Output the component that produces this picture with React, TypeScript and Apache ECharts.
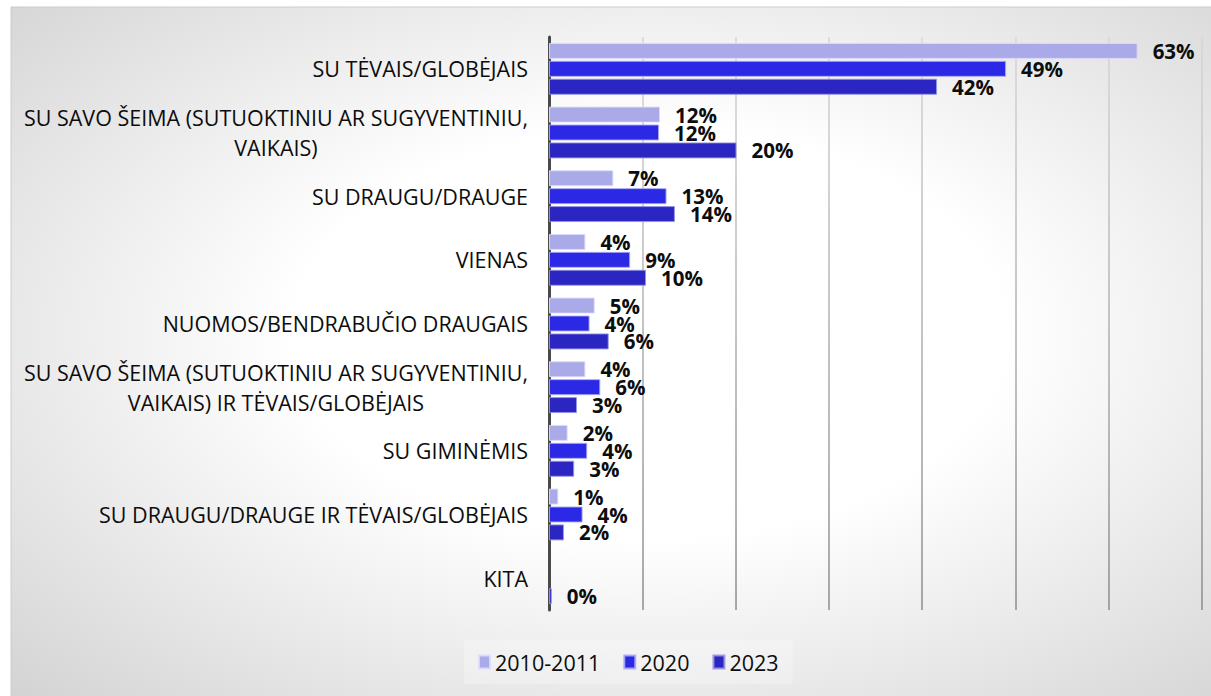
import React, { useEffect, useRef } from "react";
import * as echarts from "echarts";

const categories = [
  "SU TĖVAIS/GLOBĖJAIS",
  "SU SAVO ŠEIMA (SUTUOKTINIU AR SUGYVENTINIU,\nVAIKAIS)",
  "SU DRAUGU/DRAUGE",
  "VIENAS",
  "NUOMOS/BENDRABUČIO DRAUGAIS",
  "SU SAVO ŠEIMA (SUTUOKTINIU AR SUGYVENTINIU,\nVAIKAIS) IR TĖVAIS/GLOBĖJAIS",
  "SU GIMINĖMIS",
  "SU DRAUGU/DRAUGE IR TĖVAIS/GLOBĖJAIS",
  "KITA",
];

const seriesNames = ["2010-2011", "2020", "2023"];
const values2010 = [63.1, 11.9, 6.9, 3.9, 4.9, 3.9, 2.0, 1.0, null];
const values2020 = [49.0, 11.8, 12.6, 8.7, 4.35, 5.5, 4.1, 3.6, null];
const values2023 = [41.6, 20.1, 13.5, 10.4, 6.4, 3.0, 2.7, 1.6, 0.3];

const colors = ["#aaaae9", "#2b28e6", "#2b25c2"];
const borders = ["rgba(220,220,250,0.9)", "rgba(170,170,245,0.9)", "rgba(150,150,230,0.9)"];

const FONT = "'Open Sans', sans-serif";

export default function App() {
  const ref = useRef<HTMLDivElement>(null);

  useEffect(() => {
    if (!ref.current) return;
    const chart = echarts.init(ref.current, null, { renderer: "svg" });
    const allValues = [values2010, values2020, values2023];

    const series = allValues.map((vals, i) => ({
      name: seriesNames[i],
      type: "bar",
      data: vals,
      barWidth: 16,
      barGap: "12%",
      itemStyle: {
        color: colors[i],
        borderColor: borders[i],
        borderWidth: 1,
      },
      label: {
        show: true,
        position: "right",
        distance: 15,
        fontFamily: FONT,
        fontWeight: "bold",
        fontSize: 20.5,
        color: "#0d0d0d",
        formatter: (p: any) =>
          p.value === null || p.value === undefined ? "" : Math.round(p.value) + "%",
      },
    }));

    chart.setOption({
      animation: false,
      textStyle: { fontFamily: FONT },
      graphic: [
        {
          type: "rect",
          z: -100,
          silent: true,
          shape: { x: 11, y: 7, width: 1205, height: 695 },
          style: {
            fill: {
              type: "radial",
              x: 0.53,
              y: 0.47,
              r: 0.98,
              colorStops: [
                { offset: 0, color: "#ffffff" },
                { offset: 0.3, color: "#ffffff" },
                { offset: 1, color: "#bcbcbc" },
              ],
            },
            stroke: "#cccccc",
            lineWidth: 1,
          },
        },
      ],
      legend: {
        data: seriesNames,
        left: 464,
        top: 640,
        padding: [11, 14],
        backgroundColor: "rgba(255,255,255,0.25)",
        itemWidth: 11,
        itemHeight: 13,
        itemGap: 23,
        icon: "rect",
        textStyle: { fontFamily: FONT, fontSize: 21.5, color: "#0d0d0d" },
      },
      grid: { left: 549, right: 9, top: 37, bottom: 86, containLabel: false },
      xAxis: {
        type: "value",
        min: 0,
        max: 70,
        interval: 10,
        axisLabel: { show: false },
        axisLine: { show: false },
        axisTick: { show: false },
        splitLine: {
          show: true,
          lineStyle: {
            width: 1.5,
            color: {
              type: "linear",
              x: 0,
              y: 37,
              x2: 0,
              y2: 610,
              global: true,
              colorStops: [
                { offset: 0, color: "#d6d6d6" },
                { offset: 1, color: "#8c8c8c" },
              ],
            },
          },
        },
      },
      yAxis: {
        type: "category",
        inverse: true,
        data: categories,
        axisTick: { show: false },
        axisLine: { show: true, lineStyle: { color: "#4a4a4a", width: 3 } },
        axisLabel: {
          margin: 21,
          fontFamily: FONT,
          fontSize: 21.5,
          color: "#0d0d0d",
          formatter: (v: string) =>
            v
              .split("\n")
              .map((l) => `{c|${l}}`)
              .join("\n"),
          rich: {
            c: { align: "center", fontFamily: FONT, fontSize: 21.5, color: "#0d0d0d", lineHeight: 30 },
          },
        },
      },
      series,
    });

    return () => chart.dispose();
  }, []);

  return (
    <div
      ref={ref}
      style={{ position: "absolute", left: 0, top: 0, width: 1211, height: 696, background: "#fff" }}
    />
  );
}
